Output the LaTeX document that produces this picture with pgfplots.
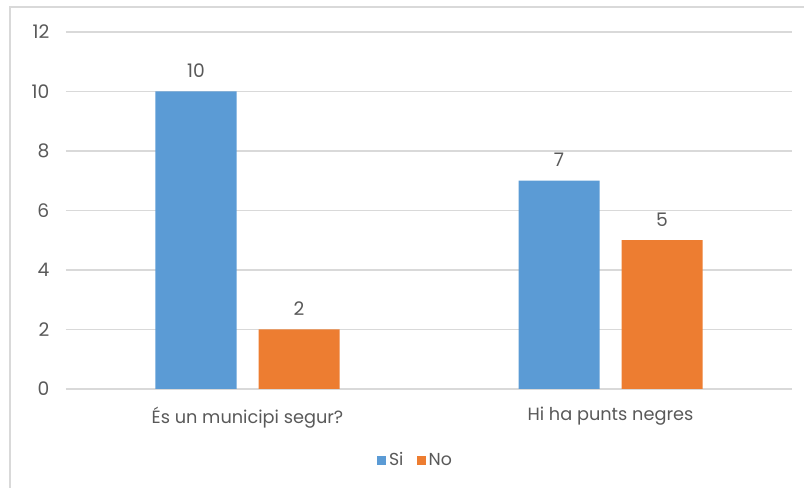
\documentclass[border=0pt]{standalone}
\usepackage{pgfplots}
\pgfplotsset{compat=1.18}
\usepackage{fontspec}
\setmainfont{Poppins}
\definecolor{siblue}{HTML}{5B9BD5}
\definecolor{noorange}{HTML}{ED7D31}
\definecolor{gridgray}{HTML}{D9D9D9}
\definecolor{txt}{HTML}{595959}
\begin{document}
\begin{tikzpicture}
\useasboundingbox (0pt,0pt) rectangle (603pt,366pt);
% chart frame (cropped at right and bottom)
\draw[gridgray, line width=1pt] (7.5pt,-5pt) -- (7.5pt,360.75pt) -- (610pt,360.75pt);
\begin{axis}[
    at={(49.5pt,74.25pt)}, anchor=south west,
    scale only axis,
    width=544.5pt, height=267.75pt,
    xmin=-0.5, xmax=1.5,
    ymin=0, ymax=12,
    ytick={0,2,...,12},
    xtick={0,1},
    xticklabels={És un municipi segur?, Hi ha punts negres},
    major tick length=0pt,
    axis line style={draw=none},
    ymajorgrids=true,
    grid style={gridgray, line width=0.9pt},
    ybar=16.5pt,
    bar width=60.75pt,
    font=\fontsize{13}{15}\selectfont,
    tick label style={txt},
    yticklabel style={xshift=-9pt, font=\fontsize{14}{16}\selectfont},
    xticklabel style={yshift=-10pt, font=\fontsize{13.3}{15}\selectfont},
    /pgf/number format/assume math mode=true,
    nodes near coords,
    nodes near coords style={txt, font=\fontsize{14}{16}\selectfont, yshift=7pt},
    legend style={at={(axis description cs:0.482,-0.199)}, anchor=center, draw=none, legend columns=2,
        font=\fontsize{13}{15}\selectfont, text=txt,
        /tikz/every even column/.append style={column sep=8pt}},
    legend image code/.code={\fill[#1] (0pt,-3.4pt) rectangle (6.8pt,3.4pt);},
    legend cell align=left,
]
\addplot[fill=siblue, draw=none] coordinates {(0,10) (1,7)};
\addplot[fill=noorange, draw=none] coordinates {(0,2) (1,5)};
\legend{Si,No}
\end{axis}
\end{tikzpicture}
\end{document}
